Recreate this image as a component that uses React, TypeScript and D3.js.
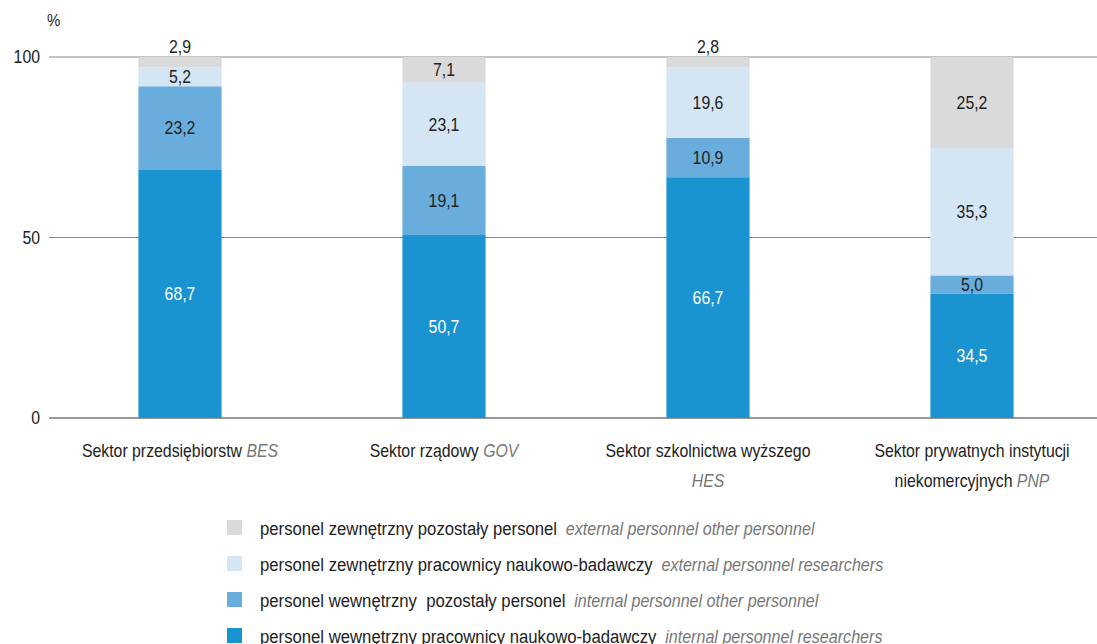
import React from "react";
import * as d3 from "d3";

const categories = ["BES", "GOV", "HES", "PNP"];
const catLabelsPl = [["Sektor przedsiębiorstw "], ["Sektor rządowy "], ["Sektor szkolnictwa wyższego", ""], ["Sektor prywatnych instytucji", "niekomercyjnych "]];
const catLabelsEn = ["BES", "GOV", "HES", "PNP"];

const internalResearchers = [68.7, 50.7, 66.7, 34.5];
const internalOther = [23.2, 19.1, 10.9, 5.0];
const externalResearchers = [5.2, 23.1, 19.6, 35.3];
const externalOther = [2.9, 7.1, 2.8, 25.2];

const seriesKeys = ["intRes", "intOth", "extRes", "extOth"];
const seriesColors = ["#1a93d1", "#69addc", "#d4e6f4", "#dadada"];
const legendPl = [
  "personel zewnętrzny pozostały personel",
  "personel zewnętrzny pracownicy naukowo-badawczy",
  "personel wewnętrzny  pozostały personel",
  "personel wewnętrzny pracownicy naukowo-badawczy",
];
const legendEn = [
  "external personnel other personnel",
  "external personnel researchers",
  "internal personnel other personnel",
  "internal personnel researchers",
];
const legendColors = ["#dadada", "#d4e6f4", "#69addc", "#1a93d1"];
const yTicks = [0, 50, 100];

const FONT = "'Liberation Sans', Arial, sans-serif";
const SX = 0.88;

function T({ x, y, children, ...rest }: any) {
  return (
    <g transform={`translate(${x},${y}) scale(${SX},1)`}>
      <text x={0} y={0} {...rest} style={{ whiteSpace: "pre" }}>{children}</text>
    </g>
  );
}

export default function App() {
  const width = 1097;
  const height = 644;
  const x = d3.scaleBand<string>().domain(categories).range([48, 1104]).paddingInner(0.685).paddingOuter(0.3425);
  const y = d3.scaleLinear().domain([0, 100]).range([418, 57]);

  const table = categories.map((c, i) => ({
    cat: c,
    intRes: internalResearchers[i],
    intOth: internalOther[i],
    extRes: externalResearchers[i],
    extOth: externalOther[i],
  }));
  const stacked = d3.stack<any>().keys(seriesKeys)(table);
  const fmt = (v: number) => v.toFixed(1).replace(".", ",");

  return (
    <svg width={width} height={height} style={{ display: "block", position: "absolute", left: 0, top: 0 }} fontFamily={FONT}>
      <T x={47} y={26} fontSize={17} fill="#222">%</T>
      {yTicks.map((t) => (
        <g key={t}>
          <line x1={49} x2={1097} y1={y(t)} y2={y(t)} stroke={t === 0 ? "#777" : "#888"} strokeWidth={t === 0 ? 1.5 : 1} />
          <T x={40} y={y(t)} dy="0.35em" textAnchor="end" fontSize={18} fill="#222">{t}</T>
        </g>
      ))}
      {stacked.map((s, si) => (
        <g key={s.key}>
          {s.map((d: any, i: number) => {
            const v = d[1] - d[0];
            const bx = x(categories[i])!;
            const bw = x.bandwidth();
            const yTop = y(d[1]);
            const yBot = y(d[0]);
            const small = v < 4;
            const ly = small ? yTop - 10 : (yTop + yBot) / 2;
            return (
              <g key={i}>
                <rect x={bx} y={yTop} width={bw} height={yBot - yTop} fill={seriesColors[si]} />
                <T x={bx + bw / 2} y={ly} dy="0.35em" textAnchor="middle" fontSize={18} fill={si === 0 ? "#fff" : "#222"}>{fmt(v)}</T>
              </g>
            );
          })}
        </g>
      ))}
      {categories.map((c, i) => {
        const cx = x(c)! + x.bandwidth() / 2;
        const lines = catLabelsPl[i];
        return (
          <g key={c}>
            {lines.map((ln, li) => (
              <T key={li} x={cx} y={457 + li * 30} textAnchor="middle" fontSize={18} fill="#222">
                {ln}
                {li === lines.length - 1 && (
                  <tspan fill="#777" fontStyle="italic">{catLabelsEn[i]}</tspan>
                )}
              </T>
            ))}
          </g>
        );
      })}
      {legendPl.map((l, i) => {
        const ly = 528 + i * 36;
        return (
          <g key={i}>
            <rect x={227} y={ly - 8} width={15} height={15} fill={legendColors[i]} />
            <T x={260} y={ly} dy="0.35em" fontSize={19} fill="#222">
              {l}
              <tspan fill="#777" fontStyle="italic" fontSize={18.3} dx={10}>{legendEn[i]}</tspan>
            </T>
          </g>
        );
      })}
    </svg>
  );
}
